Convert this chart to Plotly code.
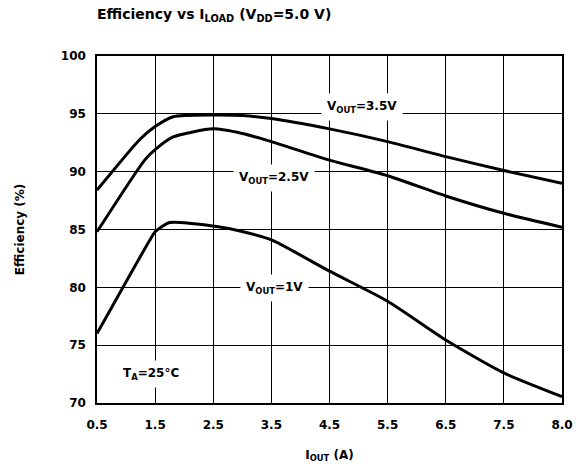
import numpy as np
import plotly.graph_objects as go

# Tick labels (equally spaced on the drawing, last interval is 0.5 A)
tick_currents = [0.5, 1.5, 2.5, 3.5, 4.5, 5.5, 6.5, 7.5, 8.0]
tick_labels = ["0.5", "1.5", "2.5", "3.5", "4.5", "5.5", "6.5", "7.5", "8.0"]
y_ticks = [70, 75, 80, 85, 90, 95, 100]

# V_OUT = 3.5 V
i_35 = [0.5, 1.24, 1.5, 1.81, 2.5, 3.0, 3.5, 4.5, 5.5, 6.5, 7.5, 8.0]
eff_35 = [88.4, 92.8, 93.9, 94.75, 94.9, 94.85, 94.6, 93.7, 92.6, 91.3, 90.1, 89.0]

# V_OUT = 2.5 V
i_25 = [0.5, 1.32, 1.5, 1.81, 2.5, 3.0, 3.5, 4.5, 5.5, 6.5, 7.5, 8.0]
eff_25 = [84.8, 91.0, 91.9, 93.0, 93.7, 93.3, 92.6, 91.0, 89.65, 87.9, 86.4, 85.2]

# V_OUT = 1 V
i_10 = [0.5, 1.41, 1.5, 1.75, 2.5, 2.96, 3.5, 4.5, 5.5, 6.5, 7.5, 8.0]
eff_10 = [76.0, 84.1, 84.8, 85.6, 85.3, 84.87, 84.1, 81.4, 78.8, 75.45, 72.6, 70.55]

# Label texts and their anchor (current, efficiency)
label_texts = ["V<sub>OUT</sub>=3.5V", "V<sub>OUT</sub>=2.5V", "V<sub>OUT</sub>=1V", "T<sub>A</sub>=25°C"]
label_currents = [5.06, 3.55, 3.56, 1.43]
label_effs = [95.55, 89.45, 79.9, 72.55]

tick_pos = list(range(len(tick_currents)))


def to_pos(currents):
    return np.interp(currents, tick_currents, tick_pos)


FONT = "DejaVu Sans"
fig = go.Figure()
for xs, ys in [(i_35, eff_35), (i_25, eff_25), (i_10, eff_10)]:
    fig.add_trace(go.Scatter(
        x=to_pos(xs), y=ys, mode="lines",
        line=dict(color="black", width=3, shape="spline", smoothing=0.6),
        showlegend=False, hoverinfo="skip"))

ann_font = dict(family=FONT, size=12, color="black")
for text, cur, val in zip(label_texts, to_pos(label_currents), label_effs):
    fig.add_annotation(
        x=float(cur), y=val, text="<b>" + text + "</b>", showarrow=False,
        font=ann_font, bgcolor="white", borderpad=5,
        xref="x", yref="y")

fig.update_layout(
    width=584, height=470,
    margin=dict(l=97, r=22, t=56, b=67),
    paper_bgcolor="white", plot_bgcolor="white",
    font=dict(family=FONT, size=12, color="black"),
    title=dict(text="<b>Efficiency vs I<sub>LOAD</sub> (V<sub>DD</sub>=5.0 V)</b>",
               x=97 / 584, xanchor="left", xref="container",
               y=1 - 14 / 470, yanchor="middle",
               font=dict(family=FONT, size=14, color="black")),
    xaxis=dict(range=[0, 8], tickvals=tick_pos, ticktext=["<b>%s</b>" % t for t in tick_labels],
               showgrid=True, gridcolor="black", gridwidth=1,
               showline=True, linecolor="black", linewidth=1.5, mirror=True,
               zeroline=False, ticks="", ticklabelstandoff=10, automargin=False,
               title=dict(text="<b>I<sub>OUT</sub> (A)</b>", standoff=19,
                          font=dict(family=FONT, size=12))),
    yaxis=dict(range=[70, 100], tickvals=y_ticks, ticktext=["<b>%d</b>" % v for v in y_ticks],
               showgrid=True, gridcolor="black", gridwidth=1,
               showline=True, linecolor="black", linewidth=1.5, mirror=True,
               zeroline=False, ticks="", ticklabelstandoff=7, automargin=False,
               title=dict(text="<b>Efficiency (%)</b>", standoff=34,
                          font=dict(family=FONT, size=12))),
)

fig.write_html("out.html", config={"displayModeBar": False},
               post_script="document.body.style.margin='0';")
